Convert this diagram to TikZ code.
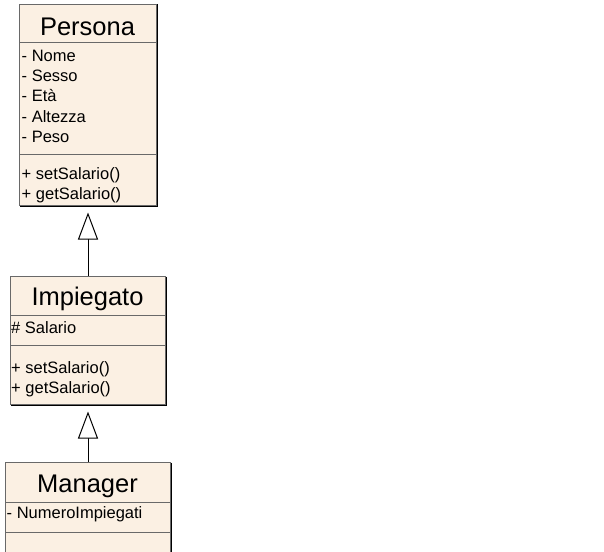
\documentclass[tikz,border=0pt]{standalone}
\usepackage{fontspec}
\setmainfont{Liberation Sans}
\usetikzlibrary{arrows.meta}

\definecolor{classfill}{RGB}{251,240,227}
\definecolor{framegray}{RGB}{105,105,105}

\tikzset{
  x=1pt, y=-1pt,
  classbox/.style={draw=framegray, line width=1pt, fill=classfill,
    inner sep=0pt, anchor=north west},
  shadowline/.style={draw=black, line width=1.4pt},
  compsep/.style={draw=framegray, line width=1pt},
  classtitle/.style={anchor=base, inner sep=0pt,
    font=\fontsize{25.5}{30}\selectfont},
  member/.style={anchor=base west, inner sep=0pt,
    font=\fontsize{16.5}{20}\selectfont},
  inherit/.style={draw=black, line width=1pt,
    -{Triangle[length=27pt, width=20pt, fill=white, line width=1pt]},
    shorten >=6.5pt},
}

% frame shadow on the right and bottom edges of a class box
\newcommand{\boxshadow}[1]{%
  \draw[shadowline] ([xshift=0.7pt,yshift=-0.5pt]#1.north east)
    -- ([xshift=0.7pt,yshift=-0.7pt]#1.south east)
    -- ([xshift=0.5pt,yshift=-0.7pt]#1.south west);}

\begin{document}
\begin{tikzpicture}
\clip (0,0) rectangle (604,551);
\fill[white] (0,0) rectangle (604,551);

% ---- Persona ----
\node[classbox, minimum width=137pt, minimum height=201pt] (persona) at (19,4) {};
\boxshadow{persona}
\draw[compsep] (persona.west |- 0,43) -- (persona.east |- 0,43);
\draw[compsep] (persona.west |- 0,154) -- (persona.east |- 0,154);
\node[classtitle] (persona-title) at (87.5,36) {Persona};
\node[member] (p-nome)    at (21.5,61)  {- Nome};
\node[member] (p-sesso)   at (21.5,81)  {- Sesso};
\node[member] (p-eta)     at (21.5,101.5) {- Età};
\node[member] (p-altezza) at (21.5,122) {- Altezza};
\node[member] (p-peso)    at (21.5,142) {- Peso};
\node[member] (p-set)     at (21.5,179) {+ setSalario()};
\node[member] (p-get)     at (21.5,199) {+ getSalario()};

% ---- Impiegato ----
\node[classbox, minimum width=155pt, minimum height=128pt] (impiegato) at (10,276) {};
\boxshadow{impiegato}
\draw[compsep] (impiegato.west |- 0,315) -- (impiegato.east |- 0,315);
\draw[compsep] (impiegato.west |- 0,345) -- (impiegato.east |- 0,345);
\node[classtitle] (impiegato-title) at (87.5,305) {Impiegato};
\node[member] (i-salario) at (11,333) {\# Salario};
\node[member] (i-set)     at (11,373) {+ setSalario()};
\node[member] (i-get)     at (11,393) {+ getSalario()};

% ---- Manager ----
\node[classbox, minimum width=165pt, minimum height=130pt] (manager) at (5,462) {};
\boxshadow{manager}
\draw[compsep] (manager.west |- 0,502) -- (manager.east |- 0,502);
\draw[compsep] (manager.west |- 0,532) -- (manager.east |- 0,532);
\node[classtitle] (manager-title) at (87.5,492) {Manager};
\node[member] (m-numero) at (6.5,518) {- NumeroImpiegati};

% ---- generalisation arrows ----
\draw[inherit] (impiegato.north) -- (persona.south);
\draw[inherit] (manager.north) -- (impiegato.south);
\end{tikzpicture}
\end{document}
